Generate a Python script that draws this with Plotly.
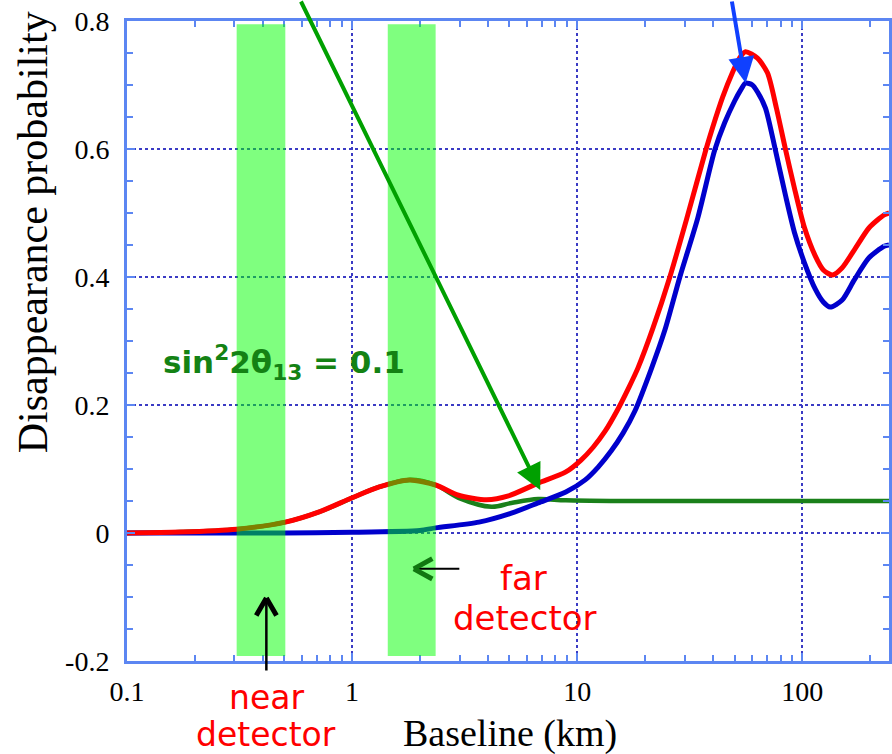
import numpy as np
import plotly.graph_objects as go

# ---------------- data ----------------
# baseline in km, disappearance probability
red_L = [0.1, 0.172, 0.307, 0.505, 0.714, 1.0, 1.32, 1.79, 2.35, 2.97, 3.96, 4.95, 6.71,
         8.86, 10.4, 11.77, 13.30, 15.03, 16.99, 18.62, 21.69, 25.79, 30.98, 37.23, 39.98, 44.26,
         49.0, 52.6, 55.9, 63.2, 70.0, 76.7, 84.1, 92.2, 102.0, 114.1, 124.0, 136.0, 150.0, 170.0,
         198.0, 231.0, 243.0]
red_P = [0.0, 0.0015, 0.006, 0.017, 0.033, 0.055, 0.072, 0.083, 0.075, 0.059, 0.052, 0.058, 0.078,
         0.095, 0.114, 0.134, 0.159, 0.191, 0.228, 0.258, 0.320, 0.400, 0.497, 0.598, 0.634, 0.681,
         0.720, 0.742, 0.752, 0.742, 0.719, 0.664, 0.600, 0.539, 0.478, 0.433, 0.411, 0.403, 0.414, 0.442,
         0.477, 0.497, 0.500]

blue_L = [0.1, 0.5, 1.0, 2.0, 2.35, 3.66, 5.1, 6.7, 8.9, 10.85, 12.39, 14.14, 15.98, 18.06, 21.26,
          24.51, 28.57, 34.31, 40.79, 45.17, 50.03, 53.18, 55.9, 60.0, 63.24, 68.58, 75.95, 84.11,
          92.19, 102.0, 114.2, 123.9, 133.0, 150.3, 169.9, 197.7, 230.7, 242.7]
blue_P = [0.0, 0.0, 0.001, 0.004, 0.008, 0.017, 0.031, 0.047, 0.064, 0.083, 0.103, 0.128, 0.156, 0.191, 0.255,
          0.317, 0.400, 0.492, 0.598, 0.641, 0.675, 0.692, 0.703, 0.700, 0.689, 0.664, 0.598, 0.528,
          0.470, 0.423, 0.381, 0.361, 0.353, 0.364, 0.395, 0.430, 0.448, 0.450]

green_L = [0.1, 0.172, 0.307, 0.505, 0.714, 1.0, 1.32, 1.79, 2.35, 2.97, 4.16, 5.1, 6.7, 8.9, 14.1, 30, 100, 243]
green_P = [0.0, 0.0015, 0.006, 0.017, 0.033, 0.055, 0.072, 0.083, 0.075, 0.055, 0.041, 0.047, 0.053, 0.051, 0.05, 0.05, 0.05, 0.05]

near_band = [0.307, 0.505]   # km
far_band = [1.44, 2.35]      # km
band_P = [-0.192, 0.795]

x_tickvals = [0.1, 1, 10, 100]
x_ticktext = ["0.1", "1", "10", "100"]
y_tickvals = [-0.2, 0, 0.2, 0.4, 0.6, 0.8]
y_ticktext = ["-0.2", "0", "0.2", "0.4", "0.6", "0.8"]
x_minor = [m * 10.0 ** e for e in (-1, 0, 1, 2) for m in range(2, 10)]

AXIS = "#5c86f2"
GRID = "#3b3bc4"
SERIF = "Liberation Serif"
COMIC = "DejaVu Sans"

fig = go.Figure()
fig.add_trace(go.Scatter(x=green_L, y=green_P, mode="lines", line=dict(color="#1a801a", width=4.5, shape="spline", smoothing=1)))
fig.add_trace(go.Scatter(x=blue_L, y=blue_P, mode="lines", line=dict(color="#0000cc", width=5, shape="spline", smoothing=0.7)))
fig.add_trace(go.Scatter(x=red_L, y=red_P, mode="lines", line=dict(color="#ff0000", width=5, shape="spline", smoothing=0.7)))

for band in (near_band, far_band):
    fig.add_shape(type="rect", xref="x", yref="y", x0=band[0], x1=band[1], y0=band_P[0], y1=band_P[1],
                  fillcolor="rgba(0,255,0,0.5)", line=dict(width=0), layer="above")

lg = np.log10
ann = []
# green arrow
ann.append(dict(x=lg(6.85), y=0.067, xref="x", yref="y", text="", showarrow=True, ax=-240, ay=-514,
                arrowcolor="#00a000", arrowwidth=4, arrowhead=2, arrowsize=1.3, standoff=0))
# blue arrow
ann.append(dict(x=lg(56.0), y=0.703, xref="x", yref="y", text="", showarrow=True, ax=-14, ay=-90,
                arrowcolor="#1040ff", arrowwidth=4, arrowhead=2, arrowsize=1.3, standoff=0))
# near detector arrow (line + chevron)
ann.append(dict(x=lg(0.416), y=-0.1016, xref="x", yref="y", text="", showarrow=True, ax=0, ay=74,
                arrowcolor="black", arrowwidth=2.5, arrowhead=0, standoff=0))
for dx in (-11, 11):
    ann.append(dict(x=lg(0.416), y=-0.1016, xref="x", yref="y", text="", showarrow=True, ax=dx, ay=19,
                    arrowcolor="black", arrowwidth=5, arrowhead=0, standoff=0))
# far detector arrow (black line + green chevron)
ann.append(dict(x=lg(1.88), y=-0.056, xref="x", yref="y", text="", showarrow=True, ax=47, ay=0,
                arrowcolor="black", arrowwidth=2, arrowhead=0, standoff=0))
for dy in (-11, 11):
    ann.append(dict(x=lg(1.88), y=-0.056, xref="x", yref="y", text="", showarrow=True, ax=20, ay=dy,
                    arrowcolor="#117711", arrowwidth=5, arrowhead=0, standoff=0))

# texts
ann.append(dict(x=lg(0.496), y=0.267, xref="x", yref="y", showarrow=False,
                text="<b>sin<sup>2</sup>2θ<sub>13</sub> = 0.1</b>", font=dict(family=COMIC, size=31, color="#148214")))
ann.append(dict(x=0.183, y=-0.0563, xref="paper", yref="paper", xanchor="center", yanchor="middle",
                showarrow=False, text="near", font=dict(family=COMIC, size=33, color="#ff0000")))
ann.append(dict(x=0.183, y=-0.1156, xref="paper", yref="paper", xanchor="center", yanchor="middle",
                showarrow=False, text="detector", font=dict(family=COMIC, size=33, color="#ff0000")))
ann.append(dict(x=lg(5.77), y=-0.070, xref="x", yref="y", showarrow=False, text="far",
                font=dict(family=COMIC, size=34, color="#ff0000")))
ann.append(dict(x=lg(5.89), y=-0.133, xref="x", yref="y", showarrow=False, text="detector",
                font=dict(family=COMIC, size=34, color="#ff0000")))
# axis titles
ann.append(dict(x=-0.124, y=0.669, xref="paper", yref="paper", xanchor="center", yanchor="middle",
                showarrow=False, textangle=-90,
                text="Disappearance probability", font=dict(family=SERIF, size=42, color="black")))
ann.append(dict(x=0.503, y=-0.1125, xref="paper", yref="paper", xanchor="center", yanchor="middle",
                showarrow=False, text="Baseline (km)", font=dict(family=SERIF, size=38, color="black")))

fig.update_layout(
    width=892, height=754, margin=dict(l=127, r=0, t=21, b=93),
    paper_bgcolor="white", plot_bgcolor="white", showlegend=False,
    annotations=ann,
)
fig.update_xaxes(type="log", range=[-1, 2.385], showline=True, linecolor=AXIS, linewidth=3, mirror="ticks",
                 showgrid=True, gridcolor=GRID, gridwidth=1.5, griddash="dot", zeroline=False,
                 tickvals=x_tickvals, ticktext=x_ticktext, ticks="inside", ticklen=8, tickcolor=AXIS, tickwidth=1.5,
                 tickfont=dict(family=SERIF, size=28, color="black"), ticklabelstandoff=3,
                 minor=dict(tickvals=x_minor, ticks="inside", ticklen=6, tickcolor=AXIS, tickwidth=1.5, showgrid=False))
fig.update_yaxes(range=[-0.2, 0.8], showline=True, linecolor=AXIS, linewidth=3, mirror="ticks",
                 showgrid=True, gridcolor=GRID, gridwidth=1.5, griddash="dot", zeroline=False,
                 tickvals=y_tickvals, ticktext=y_ticktext, ticks="inside", ticklen=8, tickcolor=AXIS, tickwidth=1.5,
                 tickfont=dict(family=SERIF, size=28, color="black"), ticklabelstandoff=9,
                 minor=dict(dtick=0.05, tick0=0, ticks="inside", ticklen=6, tickcolor=AXIS, tickwidth=1.5, showgrid=False))

fig.write_html("out.html")
